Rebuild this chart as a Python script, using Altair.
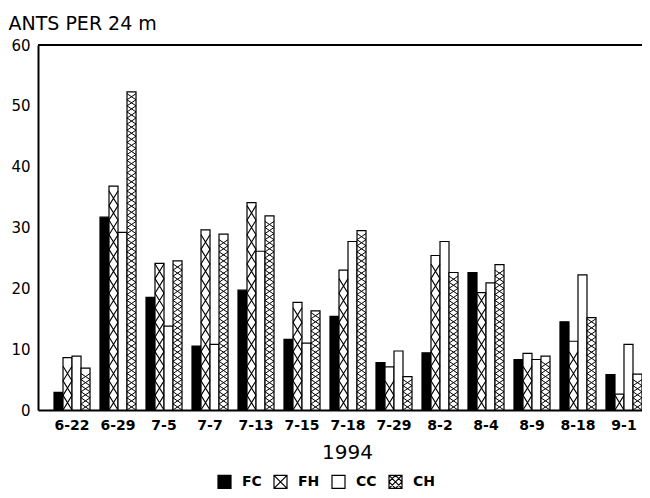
import altair as alt
import pandas as pd

dates = ["6-22", "6-29", "7-5", "7-7", "7-13", "7-15", "7-18", "7-29",
         "8-2", "8-4", "8-9", "8-18", "9-1"]
series = ["FC", "FH", "CC", "CH"]
fc = [2.9, 31.7, 18.5, 10.5, 19.7, 11.6, 15.4, 7.8, 9.4, 22.6, 8.3, 14.5, 5.8]
fh = [8.6, 36.8, 24.1, 29.6, 34.1, 17.7, 23.0, 7.1, 25.4, 19.3, 9.3, 11.3, 2.6]
cc = [8.85, 29.2, 13.8, 10.8, 26.1, 11.0, 27.7, 9.7, 27.7, 20.9, 8.3, 22.2, 10.8]
ch = [6.9, 52.3, 24.5, 28.9, 31.9, 16.3, 29.5, 5.5, 22.6, 23.9, 8.85, 15.2, 5.9]
y_ticks = [0, 10, 20, 30, 40, 50, 60]

rows = []
for name, vals in zip(series, [fc, fh, cc, ch]):
    for d, v in zip(dates, vals):
        rows.append({"date": d, "series": name, "value": v})
df = pd.DataFrame(rows)

FONT = "DejaVu Sans"

x_axis = alt.Axis(title="1994", labelAngle=0, labelFont=FONT, labelFontSize=14,
                  labelFontWeight="bold", labelColor="black", ticks=False,
                  domainColor="black", domainWidth=2, labelPadding=8,
                  titleFont=FONT, titleFontSize=20, titleFontWeight="normal",
                  titleColor="black", titleX=309, titleY=48,
                  titleBaseline="alphabetic", titleAlign="center")
x_enc = alt.X("date:N", sort=dates,
              scale=alt.Scale(domain=dates, paddingInner=0.217, paddingOuter=0.174, align=1),
              axis=x_axis)
xo_enc = alt.XOffset("series:N", sort=series,
                     scale=alt.Scale(domain=series, paddingInner=0, paddingOuter=0))

y_scale = alt.Scale(domain=[0, 60], nice=False)
y_axis = alt.Axis(values=y_ticks, title="ANTS PER 24 m", titleAngle=0, titleAlign="left",
                  titleX=-30, titleY=-16, titleBaseline="alphabetic", titleFont=FONT,
                  titleFontSize=19, titleFontWeight="normal", titleColor="black",
                  ticks=False, grid=False, domainColor="black", domainWidth=2,
                  labelFont=FONT, labelFontSize=15, labelColor="black", labelPadding=8)

legend = alt.Legend(orient="none", legendX=179, legendY=429, direction="horizontal",
                    title=None, symbolSize=169, labelFont=FONT, labelFontSize=14,
                    labelFontWeight="bold", labelColor="black", labelOffset=10,
                    columnPadding=9, symbolStrokeWidth=1.2, symbolStrokeColor="black")

fill_enc = alt.Fill("series:N", sort=series,
                    scale=alt.Scale(domain=series, range=["black", "white", "white", "white"]),
                    legend=legend)

SQ = "M-1,-1H1V1H-1Z"
SQ_X = "M-1,-1H1V1H-1Z M-1,-1L1,1 M1,-1L-1,1"
SQ_XD = "M-1,-1H1V1H-1Z M-1,-1L1,1 M1,-1L-1,1 M0,-1L1,0L0,1L-1,0Z"
shape_enc = alt.Shape("series:N", sort=series,
                      scale=alt.Scale(domain=series, range=[SQ, SQ_X, SQ, SQ_XD]),
                      legend=legend)

base = alt.Chart(df)

bars = base.mark_bar(stroke="black", strokeWidth=1.2).encode(
    x=x_enc, xOffset=xo_enc,
    y=alt.Y("value:Q", scale=y_scale, axis=y_axis),
    fill=fill_enc,
)

FH_P = 2.4
fh_glyphs = base.transform_filter(alt.datum.series == "FH").transform_calculate(
    c=f"sequence({FH_P/2}, datum.value - {FH_P/2} + 0.001, {FH_P})"
).transform_flatten(["c"]).mark_point(
    shape="M-0.616,-1L0.616,1M0.616,-1L-0.616,1", size=213, filled=False,
    stroke="black", strokeWidth=1.1, opacity=1
).encode(x=x_enc, xOffset=xo_enc, y=alt.Y("c:Q", scale=y_scale, axis=y_axis))

CH_P = 1.0
ch_glyphs = base.transform_filter(alt.datum.series == "CH").transform_calculate(
    c=f"sequence({CH_P/2}, datum.value - {CH_P/2} + 0.001, {CH_P})"
).transform_flatten(["c"]).mark_point(
    shape="M-1,-0.676L1,0.676M1,-0.676L-1,0.676", size=81, filled=False,
    stroke="black", strokeWidth=1.0, opacity=1
).encode(x=x_enc, xOffset=xo_enc, y=alt.Y("c:Q", scale=y_scale, axis=y_axis))

legend_pts = base.transform_filter("false").mark_point(
    filled=True, stroke="black", strokeWidth=1.2, opacity=1
).encode(x=x_enc, xOffset=xo_enc, y=alt.Y("value:Q", scale=y_scale, axis=y_axis),
         fill=fill_enc, shape=shape_enc)

top_rule = alt.Chart(pd.DataFrame({"t": [60]})).mark_rule(color="black", strokeWidth=2).encode(
    y=alt.Y("t:Q", scale=y_scale, axis=y_axis)
)

chart = alt.layer(bars, fh_glyphs, ch_glyphs, legend_pts, top_rule).properties(
    width=604, height=365,
    padding={"left": 30, "top": 37, "right": 0, "bottom": 80},
    autosize=alt.AutoSizeParams(type="none"),
).configure_view(stroke=None).configure(background="white")

chart.save("out.html", embed_options={"renderer": "svg", "actions": False})
